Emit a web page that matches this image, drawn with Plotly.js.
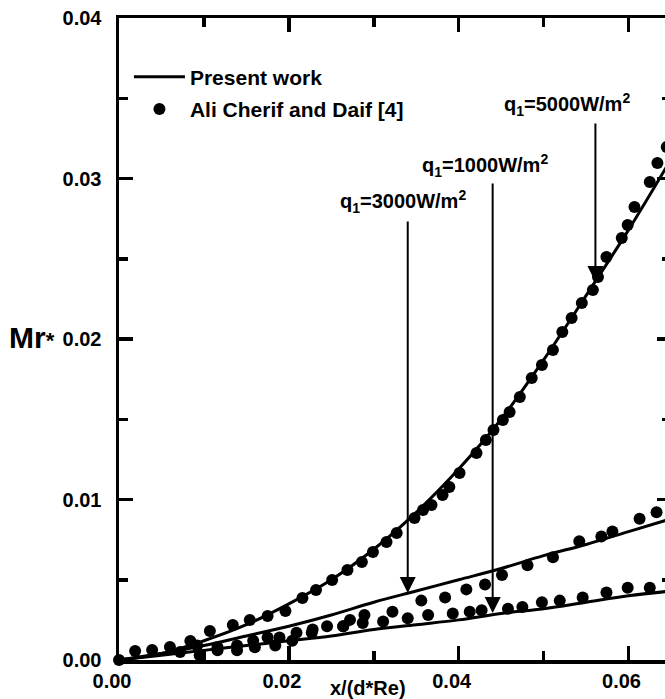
<!DOCTYPE html>
<html>
<head>
<meta charset="utf-8">
<script src="https://cdn.plot.ly/plotly-3.0.1.min.js"></script>
<style>
html,body{margin:0;padding:0;overflow:hidden;background:#fff;}
#chart{width:690px;height:699px;}
</style>
</head>
<body>
<div id="chart"></div>
<script>
// ---- data ----
var lineX   = [0, 0.005, 0.01, 0.015, 0.02, 0.025, 0.03, 0.035, 0.04, 0.045, 0.05, 0.055, 0.06, 0.065];
var line5000 = [0, 0.0004, 0.0012, 0.0022, 0.0035, 0.0050, 0.0069, 0.0092, 0.0119, 0.0150, 0.0187, 0.0227, 0.0268, 0.0312];
var line3000 = [0, 0.0004, 0.0009, 0.0015, 0.0021, 0.0028, 0.0036, 0.0043, 0.0050, 0.0057, 0.0065, 0.0072, 0.0080, 0.0088];
var line1000 = [0, 0.0003, 0.0006, 0.0009, 0.0012, 0.0015, 0.0019, 0.0022, 0.0025, 0.0029, 0.0032, 0.0036, 0.0040, 0.0043];

var exp5000X = [0, 0.0019, 0.0039, 0.0060, 0.0084, 0.0107, 0.0134, 0.0154, 0.0175, 0.0196, 0.0216, 0.0232, 0.0251, 0.0269, 0.0286, 0.0299, 0.0315, 0.0327, 0.0348, 0.0358, 0.0368, 0.0381, 0.0389, 0.0401, 0.0421, 0.0432, 0.0441, 0.0452, 0.0460, 0.0472, 0.0486, 0.0498, 0.0511, 0.0522, 0.0533, 0.0545, 0.0558, 0.0564, 0.0574, 0.0592, 0.0599, 0.0607, 0.0625, 0.0634, 0.0645];
var exp5000Y = [0, 0.00056, 0.00062, 0.00081, 0.00118, 0.00181, 0.00218, 0.00249, 0.00274, 0.00305, 0.00386, 0.00436, 0.00498, 0.00561, 0.00611, 0.00673, 0.00735, 0.00791, 0.00885, 0.00935, 0.00966, 0.01028, 0.01078, 0.01165, 0.01290, 0.01371, 0.01433, 0.01495, 0.01545, 0.01639, 0.01757, 0.01838, 0.01931, 0.02044, 0.02131, 0.02224, 0.02305, 0.02386, 0.02511, 0.02629, 0.02710, 0.02822, 0.02978, 0.03097, 0.03196];

var exp3000X = [0.0072, 0.0092, 0.0116, 0.0139, 0.0158, 0.0175, 0.0189, 0.0209, 0.0228, 0.0245, 0.0264, 0.0272, 0.0289, 0.0322, 0.0356, 0.0384, 0.0409, 0.0431, 0.0451, 0.0481, 0.0511, 0.0542, 0.0568, 0.0581, 0.0613, 0.0633];
var exp3000Y = [0.0005, 0.0009, 0.0008, 0.0009, 0.0012, 0.0014, 0.0014, 0.0017, 0.0019, 0.0021, 0.0021, 0.0025, 0.0028, 0.0030, 0.0037, 0.0039, 0.0044, 0.0047, 0.0053, 0.0059, 0.0064, 0.0074, 0.0077, 0.0080, 0.0088, 0.0092];

var exp1000X = [0.0095, 0.0116, 0.0139, 0.0160, 0.0184, 0.0204, 0.0227, 0.0264, 0.0287, 0.0311, 0.0340, 0.0364, 0.0393, 0.0413, 0.0427, 0.0458, 0.0475, 0.0498, 0.0519, 0.0546, 0.0574, 0.0599, 0.0625];
var exp1000Y = [0.0003, 0.0006, 0.0006, 0.0008, 0.0009, 0.0012, 0.0017, 0.0021, 0.0023, 0.0024, 0.0026, 0.0028, 0.0029, 0.0030, 0.0031, 0.0032, 0.0033, 0.0036, 0.0037, 0.0039, 0.0042, 0.0045, 0.0045];

var xTickVals = [0, 0.02, 0.04, 0.06];
var xTickText = ["0.00", "0.02", "0.04", "0.06"];
var yTickVals = [0, 0.01, 0.02, 0.03, 0.04];
var yTickText = ["0.00", "0.01", "0.02", "0.03", "0.04"];

var legendLine = "Present work";
var legendDots = "Ali Cherif and Daif [4]";
var xTitle = "x/(d*Re)";
var yTitle = "Mr<span style='font-size:22px'>*</span>";

// arrows: label text, label position, arrow x, arrow start y, arrow tip y
var arrowLabels = ["q<sub>1</sub>=3000W/m<sup>2</sup>", "q<sub>1</sub>=1000W/m<sup>2</sup>", "q<sub>1</sub>=5000W/m<sup>2</sup>"];
var labelX = [0.0334, 0.0431, 0.0528];
var labelY = [0.02854, 0.03084, 0.03464];
var arrowX = [0.0340, 0.0440, 0.0561];
var arrowFromY = [0.02741, 0.02978, 0.03352];
var arrowToY = [0.00417, 0.00293, 0.02355];

// ---- chart ----
var FONT = "Arial, 'Liberation Sans', Helvetica, sans-serif";
var lineStyle = {color: "#000", width: 3, shape: "spline"};
var markerStyle = {color: "#000", size: 12};

var traces = [
  {x: lineX, y: line5000, mode: "lines", line: lineStyle, name: legendLine, showlegend: true, legendgroup: "a", legendrank: 1, hoverinfo: "skip"},
  {x: lineX, y: line3000, mode: "lines", line: lineStyle, showlegend: false, hoverinfo: "skip"},
  {x: lineX, y: line1000, mode: "lines", line: lineStyle, showlegend: false, hoverinfo: "skip"},
  {x: exp5000X, y: exp5000Y, mode: "markers", marker: markerStyle, name: legendDots, showlegend: true, legendgroup: "b", legendrank: 2, cliponaxis: false},
  {x: exp3000X, y: exp3000Y, mode: "markers", marker: markerStyle, showlegend: false, cliponaxis: false},
  {x: exp1000X, y: exp1000Y, mode: "markers", marker: markerStyle, showlegend: false, cliponaxis: false}
];

var annotations = [];
for (var i = 0; i < arrowLabels.length; i++) {
  annotations.push({
    x: labelX[i], y: labelY[i], xref: "x", yref: "y", text: arrowLabels[i], showarrow: false,
    xanchor: "center", yanchor: "middle",
    font: {family: FONT, size: 20, color: "#000", weight: 700}
  });
  annotations.push({
    x: arrowX[i], y: arrowToY[i], ax: arrowX[i], ay: arrowFromY[i], axref: "x", ayref: "y",
    xref: "x", yref: "y", text: "", showarrow: true, arrowhead: 2, arrowsize: 1.6, arrowwidth: 2, arrowcolor: "#000"
  });
}
annotations.push({
  x: 0.0293, y: -0.0436, xref: "x", yref: "paper", text: xTitle, showarrow: false,
  xanchor: "center", yanchor: "middle",
  font: {family: FONT, size: 20, color: "#000", weight: 700}
});
annotations.push({
  x: -0.112, y: 0.0201, xref: "paper", yref: "y", text: yTitle, showarrow: false,
  xanchor: "right", yanchor: "middle",
  font: {family: FONT, size: 30, color: "#000", weight: 700}
});

var axisCommon = {
  showgrid: false, zeroline: false, showline: true, linecolor: "#000", linewidth: 3.5,
  mirror: "allticks", ticks: "inside", ticklen: 14, tickwidth: 3.5, tickcolor: "#000",
  tickfont: {family: FONT, size: 20, color: "#000", weight: 700}
};

var layout = {
  width: 690, height: 699,
  margin: {l: 119, r: 18.5, t: 18, b: 39},
  paper_bgcolor: "#fff", plot_bgcolor: "#fff",
  showlegend: true,
  legend: {x: 0.018, y: 0.94, xanchor: "left", yanchor: "top", bgcolor: "rgba(0,0,0,0)",
           itemwidth: 51, traceorder: "grouped", tracegroupgap: 2,
           font: {family: FONT, size: 21, color: "#000", weight: 700}},
  xaxis: Object.assign({}, axisCommon, {
    range: [0, 0.065], tickmode: "array", tickvals: xTickVals, ticktext: xTickText,
    minor: {dtick: 0.01, ticks: "inside", ticklen: 9, tickwidth: 3.5, tickcolor: "#000", showgrid: false},
    ticklabelstandoff: 0, ticklabelshift: -7
  }),
  yaxis: Object.assign({}, axisCommon, {
    range: [0, 0.04], tickmode: "array", tickvals: yTickVals, ticktext: yTickText,
    minor: {dtick: 0.005, ticks: "inside", ticklen: 9, tickwidth: 3.5, tickcolor: "#000", showgrid: false},
    ticklabelstandoff: 10
  }),
  annotations: annotations
};

Plotly.newPlot("chart", traces, layout, {displayModeBar: false, staticPlot: true});
</script>
</body>
</html>
